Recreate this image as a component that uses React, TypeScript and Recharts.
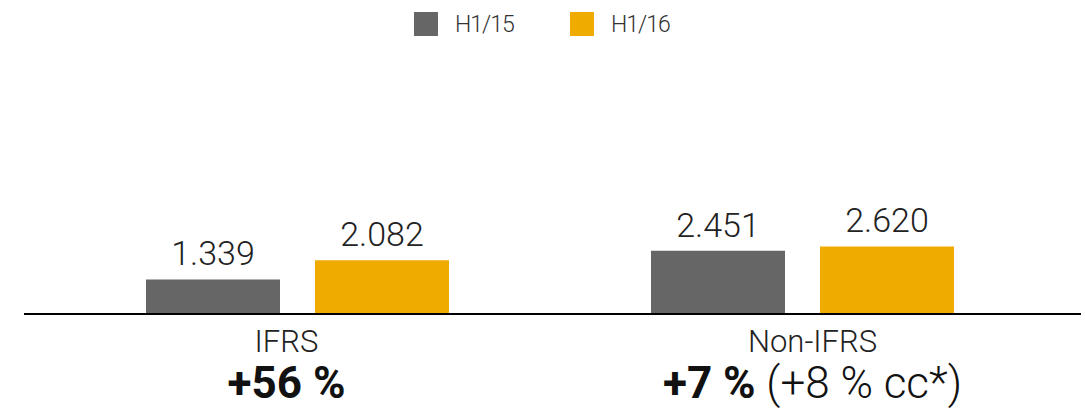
import { BarChart, Bar, XAxis, YAxis, Legend, LabelList } from 'recharts';

// values in € millions
const categories = ['IFRS', 'Non-IFRS'];
const h115 = [1.339, 2.451];
const h116 = [2.082, 2.62];
const growth = ['+56 %', '+7 %'];
const growthNote = ['', ' (+8 % cc*)'];
const seriesNames = ['H1/15', 'H1/16'];

const data = categories.map((category, i) => ({
    category,
    h115: h115[i],
    h116: h116[i],
}));

const GREY = '#666666';
const GOLD = '#F0AB00';
const FONT = 'Roboto, "Liberation Sans", sans-serif';

const fmt = (v: any) => Number(v).toFixed(3);

// labels under the axis sit a little off the bar groups in the original
const labelShift = [-11, 10];

function CategoryTick(props: any) {
    const { x, y, payload, index } = props;
    return (
        <g transform={`translate(${x + labelShift[index]},${y})`}>
            <text textAnchor="middle" dy={30} fontSize={31} fontWeight={300} fill="#222" fontFamily={FONT}>
                {payload.value}
            </text>
            <text textAnchor="middle" dy={76} fontSize={44} fill="#111" fontFamily={FONT}>
                <tspan fontWeight={700}>{growth[index]}</tspan>
                {growthNote[index] ? <tspan fontWeight={300}>{growthNote[index]}</tspan> : null}
            </text>
        </g>
    );
}

function TopLegend() {
    const colors = [GREY, GOLD];
    return (
        <div style={{ display: 'flex', height: 56, paddingTop: 12, paddingLeft: 414, boxSizing: 'border-box' }}>
            {seriesNames.map((name, i) => (
                <div key={name} style={{ display: 'flex', alignItems: 'center', width: i === 0 ? 156 : 110, height: 24 }}>
                    <span style={{ display: 'inline-block', width: 24, height: 24, background: colors[i], marginRight: 17 }} />
                    <span style={{ fontSize: 23, fontWeight: 300, color: '#333', fontFamily: FONT, letterSpacing: -1 }}>{name}</span>
                </div>
            ))}
        </div>
    );
}

export default function App() {
    return (
        <div style={{ position: 'absolute', left: 0, top: 0, fontFamily: FONT }}>
            <BarChart width={1085} height={410} data={data} margin={{ top: 0, right: 4, left: 24, bottom: 0 }} barGap={35}>
                <Legend
                    verticalAlign="top"
                    content={() => <TopLegend />}
                    wrapperStyle={{ left: 0, top: 0, width: 1085 }}
                />
                <XAxis
                    dataKey="category"
                    height={96}
                    padding={{ left: 21, right: 26 }}
                    axisLine={{ stroke: '#000', strokeWidth: 2 }}
                    tickLine={false}
                    interval={0}
                    tick={<CategoryTick />}
                />
                <YAxis hide domain={[0, 10]} />
                <Bar dataKey="h115" name={seriesNames[0]} fill={GREY} barSize={134} isAnimationActive={false}>
                    <LabelList
                        dataKey="h115"
                        position="top"
                        offset={14}
                        formatter={fmt}
                        style={{ fontSize: 34, fontWeight: 300, fill: '#222', fontFamily: FONT }}
                    />
                </Bar>
                <Bar dataKey="h116" name={seriesNames[1]} fill={GOLD} barSize={134} isAnimationActive={false}>
                    <LabelList
                        dataKey="h116"
                        position="top"
                        offset={14}
                        formatter={fmt}
                        style={{ fontSize: 34, fontWeight: 300, fill: '#222', fontFamily: FONT }}
                    />
                </Bar>
            </BarChart>
        </div>
    );
}
